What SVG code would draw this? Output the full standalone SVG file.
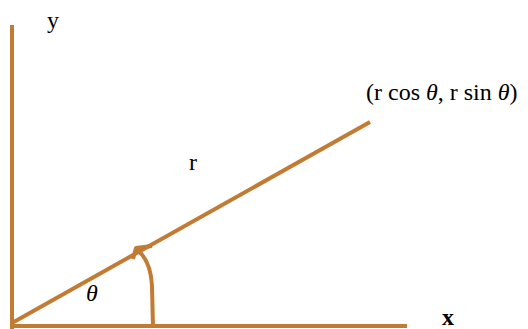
<svg xmlns="http://www.w3.org/2000/svg" width="528" height="329" viewBox="0 0 528 329">
<style>
.ln{stroke:#c27b33;stroke-width:4;fill:none;stroke-linecap:butt;stroke-linejoin:round}
.t{font-family:"Liberation Serif","Times New Roman",serif;fill:#000;font-size:24px}
</style>
<rect width="528" height="329" fill="#fff"/>
<g id="connectors">
<line class="ln" x1="12" y1="25" x2="12" y2="329"/>
<line class="ln" x1="10" y1="326" x2="407" y2="326"/>
<line class="ln" x1="12" y1="323" x2="370" y2="122"/>
<path class="ln" d="M153,327 L152,286 C151,268 146,256 136,249"/>
<path class="ln" d="M152,246 L136,248 L133,259"/>
</g>
<g id="labels">
<text class="t" x="47" y="28">y</text>
<text class="t" x="442" y="325" font-weight="bold">x</text>
<text class="t" x="189" y="170">r</text>
<text class="t" x="86" y="301" font-style="italic">θ</text>
<text class="t" x="366" y="100">(r cos <tspan font-style="italic">θ</tspan>, r sin <tspan font-style="italic">θ</tspan>)</text>
</g>
</svg>
